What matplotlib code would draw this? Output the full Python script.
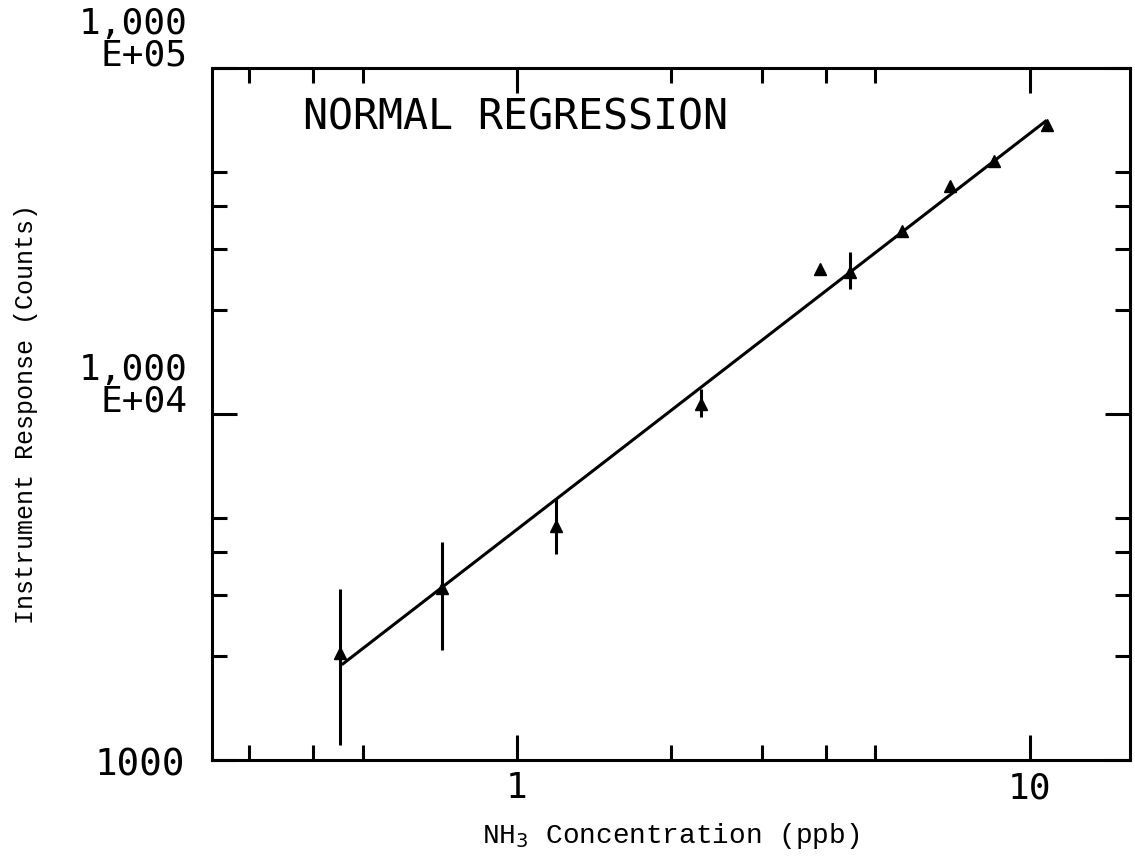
import numpy as np
import matplotlib
matplotlib.use("Agg")
import matplotlib.pyplot as plt
import matplotlib.transforms as mtransforms

# values
conc = [0.452, 0.714, 1.19, 2.29, 3.90, 4.46, 5.63, 6.98, 8.51, 10.8]
counts = [2044, 3133, 4731, 10690, 26300, 25800, 33900, 45500, 53700, 68400]

# points that carry an error bar
bar_x = [0.452, 0.714, 1.19, 2.29, 4.46]
bar_lo = [1105, 2083, 3926, 9800, 23000]
bar_hi = [3112, 4255, 5675, 11800, 29300]

# regression line end points
fit_x = [0.455, 10.8]
fit_y = [1885, 70600]

x_major = [1, 10]
x_minor = [0.3, 0.4, 0.5, 2, 3, 4, 5]
y_major = [1000, 10000, 100000]
y_minor = [2000, 3000, 4000, 5000, 20000, 30000, 40000, 50000]

mono = "DejaVu Sans Mono"
courier = "Liberation Mono"

fig = plt.figure(figsize=(11.35, 8.61), dpi=100)
ax = fig.add_axes([212 / 1135, 1 - 760 / 861, 918 / 1135, 692 / 861])

ax.set_xscale("log")
ax.set_yscale("log")
ax.set_xlim(0.254, 15.7)
ax.set_ylim(1000, 100000)

# regression line
ax.plot(fit_x, fit_y, color="black", lw=2.2, solid_capstyle="butt")

# error bars
ax.vlines(bar_x, bar_lo, bar_hi, color="black", lw=2.2)

# points
ax.plot(conc, counts, linestyle="none", marker="^", markersize=8,
        color="black")

# ticks
ax.xaxis.set_major_locator(plt.FixedLocator(x_major))
ax.xaxis.set_minor_locator(plt.FixedLocator(x_minor))
ax.yaxis.set_major_locator(plt.FixedLocator(y_major))
ax.yaxis.set_minor_locator(plt.FixedLocator(y_minor))
ax.xaxis.set_minor_formatter(plt.NullFormatter())
ax.yaxis.set_minor_formatter(plt.NullFormatter())
ax.set_xticklabels(["1", "10"], fontfamily=mono, fontsize=26)
ax.set_yticklabels(["", "", ""])

ax.tick_params(which="both", direction="in", top=True, right=True,
               width=2.2, color="black")
ax.tick_params(which="major", length=18, pad=8)
ax.tick_params(which="minor", length=11)

for s in ax.spines.values():
    s.set_linewidth(2.2)

# y tick labels in the old plotter style
ytr = mtransforms.blended_transform_factory(ax.transAxes, ax.transData)
down = mtransforms.ScaledTranslation(0, -5 / 100, fig.dpi_scale_trans)
ax.text(-0.03, 1000, "1000", transform=ytr + down, ha="right", va="center",
        fontfamily=mono, fontsize=27)
for val, lab in [(10000, "1,000\nE+04"), (100000, "1,000\nE+05")]:
    ax.text(-0.027, val, lab, transform=ytr + down, ha="right", va="bottom",
            multialignment="right", linespacing=0.92,
            fontfamily=mono, fontsize=26, clip_on=False)

ax.text(0.099, 0.929, "NORMAL REGRESSION", transform=ax.transAxes,
        ha="left", va="center", fontfamily=mono, fontsize=30)

ax.set_xlabel("NH$_3$ Concentration (ppb)", fontfamily=courier, fontsize=20)
ax.xaxis.set_label_coords(0.5, -0.088)
ax.set_ylabel("Instrument Response (Counts)", fontfamily=courier,
              fontsize=18)
ax.yaxis.set_label_coords(-0.19, 0.5)

fig.savefig("out.png", dpi=100)
